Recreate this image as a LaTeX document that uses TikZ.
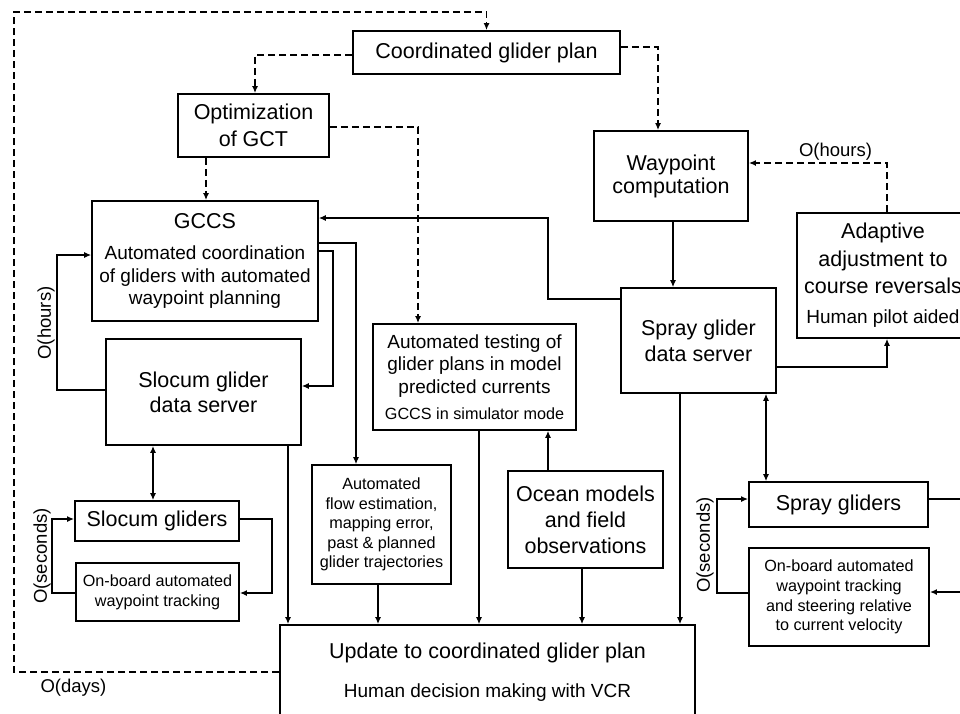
\documentclass[tikz,border=0pt]{standalone}
\usepackage{fontspec}
\setmainfont{Liberation Sans}
\usetikzlibrary{arrows.meta}
\newcommand\fsA{\fontsize{21.5}{25}\selectfont}
\newcommand\fsB{\fontsize{19}{22.5}\selectfont}
\newcommand\fsC{\fontsize{16.2}{19.6}\selectfont}
\newcommand\fsL{\fontsize{18.5}{22}\selectfont}
\begin{document}
\begin{tikzpicture}[x=1pt,y=-1pt,
 box/.style={draw, line width=1.8pt, inner sep=0pt, align=center, font=\fsA},
 conn/.style={line width=1.1pt, -{Latex[length=7pt,width=6pt]}},
 connk/.style={line width=1.6pt, -{Latex[length=7pt,width=6pt]}},
 bconn/.style={line width=1.3pt, {Latex[length=7pt,width=6pt]}-{Latex[length=7pt,width=6pt]}},
 dconn/.style={line width=1.6pt, dash pattern=on 7pt off 4pt, -{Latex[length=7pt,width=6pt]}},
 lbl/.style={font=\fsL, inner sep=0pt}]
\clip (0,0) rectangle (960,713);
\fill[white] (0,0) rectangle (960,713);

% boxes
\node[box, minimum width=267pt, minimum height=43pt] (plan) at (486.5,52.5) {Coordinated glider plan};
\node[box, minimum width=151pt, minimum height=63pt] (opt) at (253.5,125.5) {Optimization\\[2pt]of GCT};
\node[box, minimum width=226pt, minimum height=120pt, font=\fsB] (gccs) at (205,261) {{\fsA GCCS}\\[9pt]Automated coordination\\of gliders with automated\\waypoint planning};
\node[box, minimum width=195pt, minimum height=106pt] (slocds) at (203.5,392) {Slocum glider\\data server};
\node[box, minimum width=164pt, minimum height=40pt] (slocg) at (157,521) {Slocum gliders};
\node[box, minimum width=163pt, minimum height=58pt, font=\fsC] (slocob) at (157.5,592) {On-board automated\\waypoint tracking};
\node[box, minimum width=139pt, minimum height=119pt, font=\fsC] (flow) at (381.5,524.5) {Automated\\flow estimation,\\mapping error,\\past \& planned\\glider trajectories};
\node[box, minimum width=203pt, minimum height=106pt, font=\fsB] (test) at (474.5,377) {Automated testing of\\glider plans in model\\predicted currents\\[4pt]{\fsC GCCS in simulator mode}};
\node[box, minimum width=155pt, minimum height=97pt] (ocean) at (585.5,519.5) {Ocean models\\[1pt]and field\\[1pt]observations};
\node[box, minimum width=415pt, minimum height=94pt] (update) at (487.5,672) {Update to coordinated glider plan\\[14pt]{\fsB Human decision making with VCR}};
\node[box, minimum width=154pt, minimum height=90pt] (wp) at (671,176) {Waypoint\\[-2pt]computation};
\node[box, minimum width=155pt, minimum height=105pt] (sprayds) at (698.5,340.5) {Spray glider\\[1pt]data server};
\node[box, minimum width=172pt, minimum height=125pt] (adapt) at (883,275.5) {Adaptive\\[2.5pt]adjustment to\\[2.5pt]course reversals\\[5pt]{\fsB Human pilot aided}};
\node[box, minimum width=179pt, minimum height=45pt] (sprayg) at (838.5,504.5) {Spray gliders};
\node[box, minimum width=180pt, minimum height=98pt, font=\fsC] (sprayob) at (839,597) {On-board automated\\waypoint tracking\\and steering relative\\to current velocity};

% dashed connectors
\draw[dconn] (update.west) -- (14,672) |- (486.5,12) -- (plan.north);
\draw[dconn] (plan.west |- 0,55) -| (opt.north -| 255,0);
\draw[dconn] (plan.east |- 0,47) -| (wp.north -| 658,0);
\draw[dconn] (opt.south -| 206,0) -- (gccs.north -| 206,0);
\draw[dconn] (opt.east |- 0,127) -| (test.north -| 418,0);
\draw[dconn] (adapt.north -| 887,0) |- (wp.east |- 0,163);

% solid connectors
\draw[conn] (slocds.west |- 0,390) -- (57,390) |- (gccs.west |- 0,255);
\draw[conn] (gccs.east |- 0,243) -| (flow.north -| 356,0);
\draw[conn] (gccs.east |- 0,251) -- (333,251) |- (slocds.east |- 0,386);
\draw[conn] (sprayds.west |- 0,299) -- (548,299) |- (gccs.east |- 0,218);
\draw[bconn] (slocds.south -| 153,0) -- (slocg.north -| 153,0);
\draw[connk] (slocg.east |- 0,519) -- (272,519) |- (slocob.east |- 0,593);
\draw[connk] (slocob.west |- 0,593) -- (52,593) |- (slocg.west |- 0,519);
\draw[connk] (slocds.south -| 288,0) -- (update.north -| 288,0);
\draw[connk] (flow.south -| 378,0) -- (update.north -| 378,0);
\draw[conn] (test.south -| 479,0) -- (update.north -| 479,0);
\draw[conn] (ocean.north -| 548,0) -- (test.south -| 548,0);
\draw[conn] (ocean.south -| 582,0) -- (update.north -| 582,0);
\draw[conn] (sprayds.south -| 680,0) -- (update.north -| 680,0);
\draw[conn] (wp.south -| 673,0) -- (sprayds.north -| 673,0);
\draw[conn] (sprayds.east |- 0,367) -| (adapt.south -| 887,0);
\draw[bconn, line width=1.1pt] (sprayds.south -| 766,0) -- (sprayg.north -| 766,0);
\draw[connk] (sprayob.west |- 0,593) -- (717,593) |- (sprayg.west |- 0,499);
\coordinate (rloop) at (975,499);
\draw[connk] (sprayg.east |- 0,499) -- (rloop) |- (sprayob.east |- 0,592);

% labels
\node[lbl, rotate=90] (lh) at (46,323) {O(hours)};
\node[lbl, rotate=90] (ls1) at (42,556) {O(seconds)};
\node[lbl, rotate=90] (ls2) at (705,545) {O(seconds)};
\node[lbl] (lh2) at (835.5,152) {O(hours)};
\node[lbl] (ld) at (73.5,688) {O(days)};
\end{tikzpicture}
\end{document}
